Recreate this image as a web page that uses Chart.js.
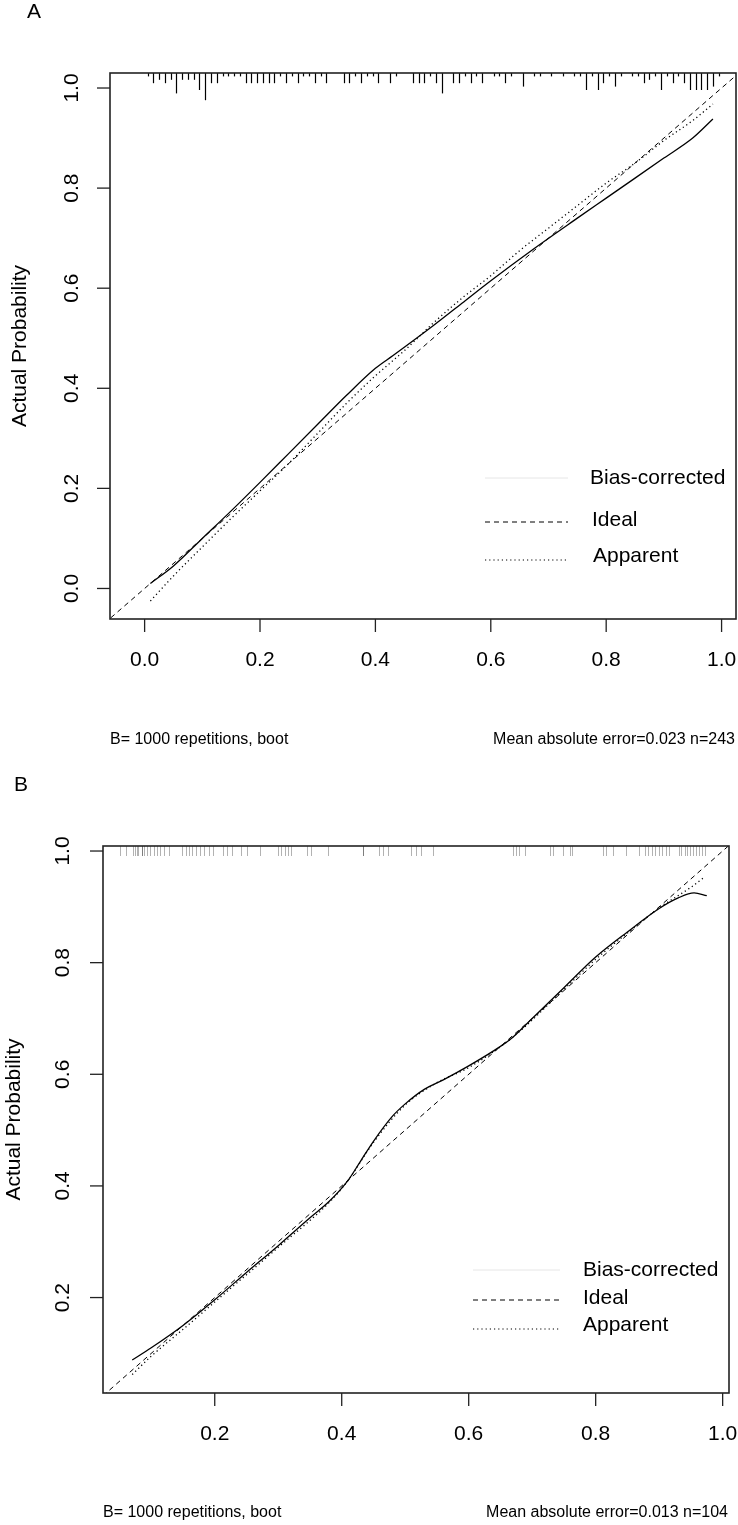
<!DOCTYPE html>
<html>
<head>
<meta charset="utf-8">
<script src="https://cdn.jsdelivr.net/npm/chart.js@4.4.0/dist/chart.umd.min.js"></script>
<style>
  html, body { margin: 0; padding: 0; background: #fff; }
  #wrap { position: relative; width: 738px; height: 1525px; }
  canvas { position: absolute; left: 0; }
  #chartA { top: 0; }
  #chartB { top: 765px; }
</style>
</head>
<body>
<div id="wrap">
  <canvas id="chartA" width="738" height="765"></canvas>
  <canvas id="chartB" width="738" height="760"></canvas>
</div>
<script>
// ---- Panel A data ----
const aTicks = [0, 0.2, 0.4, 0.6, 0.8, 1.0];
const aBiasX = [0.01, 0.05, 0.1, 0.15, 0.2, 0.25, 0.3, 0.35, 0.4, 0.43, 0.5, 0.55, 0.6, 0.67, 0.75, 0.8, 0.85, 0.9, 0.95, 0.985];
const aBiasY = [0.01, 0.045, 0.1, 0.155, 0.212, 0.27, 0.328, 0.386, 0.44, 0.465, 0.525, 0.57, 0.615, 0.675, 0.74, 0.78, 0.82, 0.86, 0.9, 0.938];
const aAppX = [0.01, 0.05, 0.1, 0.15, 0.2, 0.25, 0.3, 0.35, 0.4, 0.45, 0.5, 0.55, 0.6, 0.65, 0.7, 0.75, 0.8, 0.85, 0.9, 0.95, 0.985];
const aAppY = [-0.025, 0.025, 0.083, 0.14, 0.195, 0.25, 0.31, 0.37, 0.425, 0.475, 0.53, 0.58, 0.625, 0.675, 0.72, 0.765, 0.81, 0.85, 0.895, 0.935, 0.968];
// rug: predicted values (binned) and their counts
const aRugX = [0.005, 0.015, 0.025, 0.035, 0.045, 0.055, 0.065, 0.075, 0.085, 0.095, 0.105, 0.115, 0.125, 0.135, 0.145, 0.155, 0.165, 0.175, 0.185,
  0.195, 0.205, 0.215, 0.225, 0.235, 0.245, 0.255, 0.265, 0.275, 0.285, 0.295, 0.305, 0.315, 0.345, 0.355, 0.365, 0.375, 0.385, 0.395, 0.405,
  0.425, 0.435, 0.465, 0.475, 0.485, 0.495, 0.505, 0.515, 0.535, 0.545, 0.555, 0.565, 0.575, 0.585, 0.605, 0.615, 0.625, 0.635, 0.655,
  0.675, 0.685, 0.705, 0.725, 0.745, 0.755, 0.765, 0.775, 0.785, 0.795, 0.805, 0.815, 0.825, 0.845, 0.855, 0.865, 0.875, 0.885, 0.895,
  0.905, 0.915, 0.925, 0.935, 0.945, 0.955, 0.965, 0.975, 0.985, 0.995];
const aRugN = [1, 3, 2, 3, 2, 6, 2, 2, 2, 5, 8, 3, 3, 1, 1, 1, 1, 3, 3,
  3, 3, 3, 3, 1, 3, 1, 3, 1, 1, 3, 1, 3, 3, 3, 1, 3, 1, 1, 3,
  3, 1, 3, 3, 3, 1, 3, 6, 3, 3, 1, 3, 1, 3, 1, 1, 3, 1, 4,
  1, 1, 1, 1, 1, 1, 5, 1, 5, 3, 1, 4, 1, 1, 1, 3, 2, 1, 5,
  1, 3, 1, 3, 5, 5, 5, 5, 4, 1];

// ---- Panel B data ----
const bTicks = [0.2, 0.4, 0.6, 0.8, 1.0];
const bBiasX = [0.07, 0.1, 0.15, 0.2, 0.25, 0.3, 0.35, 0.38, 0.41, 0.43, 0.45, 0.48, 0.5, 0.53, 0.56, 0.6, 0.65, 0.67, 0.7, 0.75, 0.8, 0.85, 0.9, 0.93, 0.955, 0.975];
const bBiasY = [0.088, 0.11, 0.15, 0.196, 0.245, 0.293, 0.343, 0.372, 0.41, 0.445, 0.48, 0.525, 0.547, 0.573, 0.59, 0.615, 0.65, 0.667, 0.7, 0.755, 0.81, 0.855, 0.897, 0.916, 0.925, 0.92];
const bAppX = [0.07, 0.1, 0.15, 0.2, 0.3, 0.38, 0.41, 0.45, 0.5, 0.55, 0.6, 0.67, 0.75, 0.8, 0.85, 0.9, 0.95, 0.97];
const bAppY = [0.062, 0.095, 0.143, 0.192, 0.29, 0.37, 0.41, 0.478, 0.545, 0.585, 0.612, 0.667, 0.752, 0.806, 0.853, 0.898, 0.935, 0.952];
const bRugX = [0.050, 0.061, 0.072, 0.074, 0.077, 0.079, 0.086, 0.086, 0.089, 0.094, 0.098, 0.104, 0.109, 0.114, 0.120, 0.128,
  0.149, 0.154, 0.159, 0.164, 0.170, 0.176, 0.183, 0.191, 0.198, 0.213, 0.220, 0.227, 0.241, 0.251, 0.272, 0.300, 0.305, 0.310,
  0.315, 0.320, 0.345, 0.351, 0.378, 0.433, 0.433, 0.458, 0.465, 0.473, 0.509, 0.517, 0.525, 0.544, 0.669, 0.674, 0.679, 0.688,
  0.728, 0.732, 0.749, 0.759, 0.763, 0.812, 0.817, 0.828, 0.848, 0.868, 0.878, 0.883, 0.889, 0.894, 0.900, 0.904, 0.910, 0.915,
  0.931, 0.935, 0.940, 0.944, 0.948, 0.953, 0.958, 0.963, 0.967, 0.972];

const legendLabels = ['Bias-corrected', 'Ideal', 'Apparent'];
const FONT = '"Liberation Sans", Arial, Helvetica, sans-serif';

function pts(xs, ys) {
  return xs.map((x, i) => ({ x: x, y: ys[i] }));
}

// draws the R-style frame, axes, rug, legend and footer
const rFrame = {
  id: 'rFrame',
  afterDraw(chart, args, o) {
    const ctx = chart.ctx;
    const a = chart.chartArea;
    const xs = chart.scales.x, ys = chart.scales.y;
    ctx.save();
    ctx.fillStyle = '#000';
    ctx.strokeStyle = '#000';

    // rug along the top edge
    ctx.strokeStyle = o.rugColor;
    ctx.lineWidth = o.rugWidth;
    o.rugX.forEach((v, i) => {
      const px = Math.round(xs.getPixelForValue(v)) + 0.5;
      const len = o.rugN ? o.rugN[i] * o.rugUnit : o.rugLen;
      ctx.beginPath();
      ctx.moveTo(px, a.top);
      ctx.lineTo(px, a.top + len);
      ctx.stroke();
    });

    // box
    ctx.strokeStyle = '#222';
    ctx.lineWidth = 1.6;
    ctx.strokeRect(a.left, a.top, a.right - a.left, a.bottom - a.top);

    // ticks
    ctx.lineWidth = 1.3;
    ctx.font = '21px ' + FONT;
    ctx.textAlign = 'center';
    ctx.textBaseline = 'middle';
    o.ticks.forEach(v => {
      const px = xs.getPixelForValue(v);
      ctx.beginPath();
      ctx.moveTo(px, a.bottom);
      ctx.lineTo(px, a.bottom + 13);
      ctx.stroke();
      ctx.fillText(v.toFixed(1), px, a.bottom + 41);
    });
    o.ticks.forEach(v => {
      const py = ys.getPixelForValue(v);
      ctx.beginPath();
      ctx.moveTo(a.left - 13, py);
      ctx.lineTo(a.left, py);
      ctx.stroke();
      ctx.save();
      ctx.translate(o.yLabelX, py);
      ctx.rotate(-Math.PI / 2);
      ctx.fillText(v.toFixed(1), 0, 0);
      ctx.restore();
    });

    // axis title
    ctx.save();
    ctx.font = '21px ' + FONT;
    ctx.translate(o.titleX, (a.top + a.bottom) / 2);
    ctx.rotate(-Math.PI / 2);
    ctx.fillText('Actual Probability', 0, 0);
    ctx.restore();

    // panel letter
    ctx.font = '21px ' + FONT;
    ctx.textAlign = 'left';
    ctx.fillText(o.letter, o.letterX, o.letterY);

    // legend
    const styles = [
      { dash: [], color: '#e6e6e6', w: 1 },
      { dash: [5, 4], color: '#000', w: 1 },
      { dash: [1.2, 3], color: '#000', w: 1.2 }
    ];
    o.legendY.forEach((y, i) => {
      const s = styles[i];
      ctx.strokeStyle = s.color;
      ctx.lineWidth = s.w;
      ctx.setLineDash(s.dash);
      ctx.beginPath();
      ctx.moveTo(o.legendX1, y + o.lineDy[i]);
      ctx.lineTo(o.legendX2, y + o.lineDy[i]);
      ctx.stroke();
      ctx.setLineDash([]);
      ctx.font = '21px ' + FONT;
      ctx.fillText(legendLabels[i], o.legendTextX[i], y);
    });

    // footer
    ctx.font = '16px ' + FONT;
    ctx.textAlign = 'left';
    ctx.fillText('B= 1000 repetitions, boot', o.footLeft, o.footY);
    ctx.textAlign = 'right';
    ctx.fillText(o.footRight, o.footRightX, o.footY);
    ctx.restore();
  }
};

function calPlot(id, cfg) {
  return new Chart(document.getElementById(id).getContext('2d'), {
    type: 'scatter',
    data: {
      datasets: [
        {
          data: pts(cfg.ideal, cfg.ideal),
          showLine: true, borderColor: '#000', borderWidth: 1, borderDash: [5, 4],
          pointRadius: 0
        },
        {
          data: pts(cfg.appX, cfg.appY),
          showLine: true, borderColor: '#000', borderWidth: 1.3, borderDash: [1.2, 3],
          pointRadius: 0, cubicInterpolationMode: 'monotone'
        },
        {
          data: pts(cfg.biasX, cfg.biasY),
          showLine: true, borderColor: '#000', borderWidth: 1.3,
          pointRadius: 0, cubicInterpolationMode: 'monotone'
        }
      ]
    },
    options: {
      responsive: false,
      animation: false,
      devicePixelRatio: 1,
      events: [],
      layout: { padding: cfg.padding },
      scales: {
        x: { type: 'linear', min: cfg.xMin, max: cfg.xMax, display: false },
        y: { type: 'linear', min: cfg.yMin, max: cfg.yMax, display: false }
      },
      plugins: {
        legend: { display: false },
        tooltip: { enabled: false },
        rFrame: cfg.frame
      }
    },
    plugins: [rFrame]
  });
}

calPlot('chartA', {
  ideal: [-0.2, 1.2],
  appX: aAppX, appY: aAppY, biasX: aBiasX, biasY: aBiasY,
  xMin: -0.06, xMax: 1.025, yMin: -0.061, yMax: 1.03,
  padding: { left: 110, right: 2, top: 73, bottom: 146 },
  frame: {
    ticks: aTicks, yLabelX: 72, titleX: 20,
    rugX: aRugX, rugN: aRugN, rugUnit: 3.4, rugColor: '#000', rugWidth: 1.2,
    letter: 'A', letterX: 27, letterY: 12,
    legendY: [478, 520, 556], lineDy: [0, 2, 4], legendX1: 485, legendX2: 568, legendTextX: [590, 592, 593],
    footLeft: 110, footY: 740, footRight: 'Mean absolute error=0.023 n=243', footRightX: 735
  }
});

calPlot('chartB', {
  ideal: [-0.2, 1.2],
  appX: bAppX, appY: bAppY, biasX: bBiasX, biasY: bBiasY,
  xMin: 0.024, xMax: 1.010, yMin: 0.029, yMax: 1.009,
  padding: { left: 103, right: 9, top: 81, bottom: 132 },
  frame: {
    ticks: bTicks, yLabelX: 63, titleX: 14,
    rugX: bRugX, rugN: null, rugLen: 10, rugColor: 'rgba(0,0,0,0.3)', rugWidth: 1,
    letter: 'B', letterX: 14, letterY: 20,
    legendY: [505, 533, 560], lineDy: [0, 2, 4], legendX1: 473, legendX2: 560, legendTextX: [583, 583, 583],
    footLeft: 103, footY: 748, footRight: 'Mean absolute error=0.013 n=104', footRightX: 728
  }
});
</script>
</body>
</html>
